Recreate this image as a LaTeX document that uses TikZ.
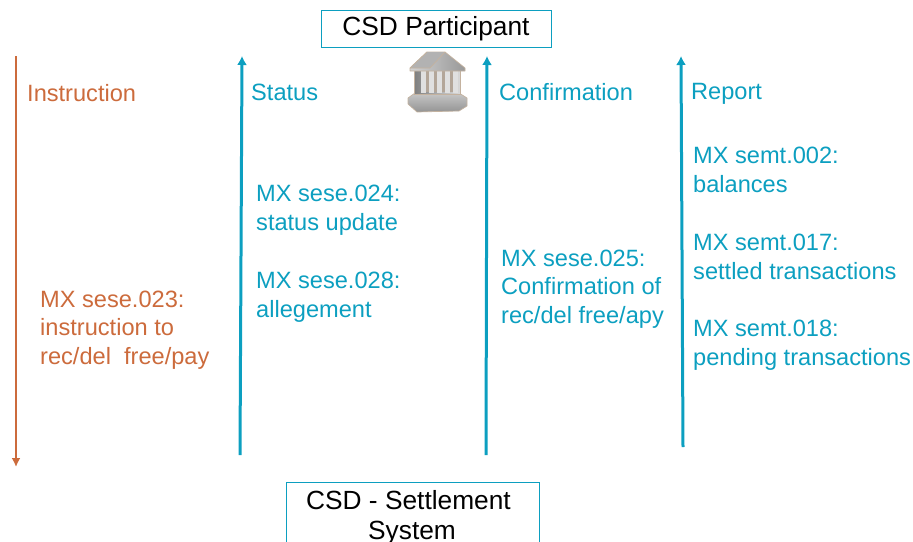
\documentclass[tikz,border=0pt]{standalone}
\usepackage{fontspec}
\setmainfont{Liberation Sans}
\definecolor{msgteal}{HTML}{0C9FC0}
\definecolor{msgorange}{HTML}{CC6B3C}
\usetikzlibrary{arrows.meta}
\tikzset{
  sidebox/.style={draw=msgteal,line width=1pt,fill=white,inner sep=0pt,align=center,font=\fontsize{26.3}{33}\selectfont},
  msgteal text/.style={text=msgteal,anchor=west,inner sep=0pt,align=left,font=\fontsize{23.6}{28.5}\selectfont},
  msgorange text/.style={text=msgorange,anchor=west,inner sep=0pt,align=left,font=\fontsize{23.6}{28.5}\selectfont},
  tealflow/.style={msgteal,line width=3pt,-{Latex[length=9pt,width=10pt]}},
  orangeflow/.style={msgorange,line width=2.4pt,-{Latex[length=9pt,width=9pt]}},
  templepart/.style={draw=black!35!brown!45,line width=0.7pt,line join=round},
}
\begin{document}
\begin{tikzpicture}[x=1pt,y=-1pt,>=latex]
  \useasboundingbox (0,0) rectangle (913,541);
  \clip (0,0) rectangle (913,541);
%%
  \node [sidebox,minimum width=230pt,minimum height=37pt] (node_participant) at (436,28.5) {CSD Participant};
  \node [sidebox,minimum width=253pt,minimum height=80pt,anchor=north] (node_settlement) at (412.5,482) {};
  \node [align=center,inner sep=0pt,font=\fontsize{26.3}{30}\selectfont] (node_settlementtext) at (412,518) {CSD - Settlement\hspace*{7pt}\\System};
%%
  \coordinate (instr_a) at (16,56);
  \coordinate (instr_b) at (16,467);
  \coordinate (status_a) at (240,455);
  \coordinate (status_b) at (242,56);
  \coordinate (confirm_a) at (486,455);
  \coordinate (confirm_b) at (487,56);
  \coordinate (report_a) at (683,447);
  \coordinate (report_b) at (681,56);
  \draw [orangeflow] (instr_a) -- (instr_b);
  \draw [tealflow] (status_a) -- (status_b);
  \draw [tealflow] (confirm_a) -- (confirm_b);
  \draw [tealflow] (report_a) -- (report_b);
%%
  \node [msgorange text] (node_instruction) at (27,93) {Instruction};
  \node [msgteal text] (node_status) at (251,92) {Status};
  \node [msgteal text] (node_confirmation) at (499,92) {Confirmation};
  \node [msgteal text] (node_report) at (691,94) {Report};
  \node [msgorange text] (node_023) at (40,330) {MX sese.023:\\instruction to\\rec/del\ \ free/pay};
  \node [msgteal text] (node_024) at (256,210) {MX sese.024:\\status update};
  \node [msgteal text] (node_028) at (256,297) {MX sese.028:\\allegement};
  \node [msgteal text] (node_025) at (501,289) {MX sese.025:\\Confirmation of\\rec/del free/apy};
  \node [msgteal text] (node_002) at (693,170) {MX semt.002:\\balances};
  \node [msgteal text] (node_017) at (693,257) {MX semt.017:\\settled transactions};
  \node [msgteal text] (node_018) at (693,345) {MX semt.018:\\pending transactions};
%%
  \draw [templepart,top color=black!22,bottom color=black!42] (408,98) -- (415,93) -- (459,93) -- (467,98) -- (467,106) -- (459,111) -- (417,112) -- (408,104) -- cycle;
  \draw [templepart,left color=black!50,right color=black!15] (414,69) rectangle (460,94);
  \fill [black!55!brown!45] (426,71) rectangle (456,92);
  \foreach \colx in {423,431,439,447,455}
    \fill [black!12] (\colx-2.5,70) rectangle (\colx+2.5,93);
  \draw [templepart,left color=black!18,right color=black!40] (427,52) -- (445,52) -- (465,68) -- (465,71) -- (410,71) -- (410,68) -- cycle;
  \draw [templepart,fill=black!30] (427,52) -- (410,68) -- (430,68) -- (445,52);
\end{tikzpicture}
\end{document}
